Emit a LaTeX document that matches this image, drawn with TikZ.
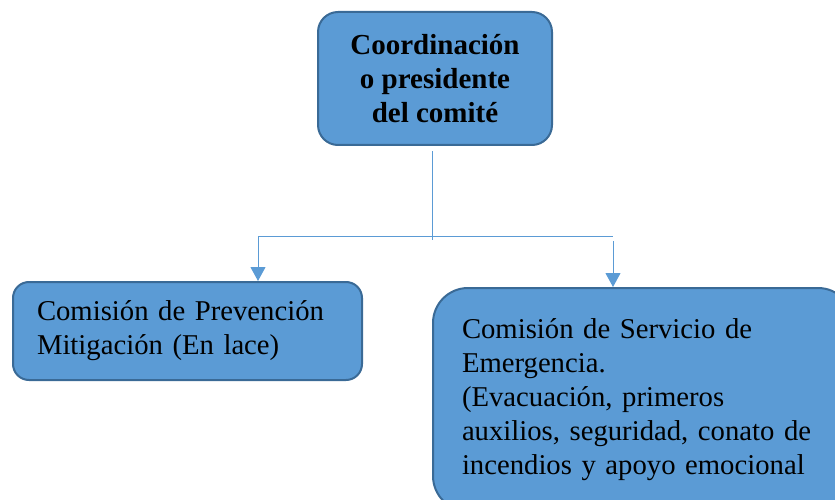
\documentclass[tikz,border=0pt]{standalone}
\usepackage{fontspec}
\setmainfont{Liberation Serif}
\usepackage{tikz}
\usetikzlibrary{arrows.meta}

\definecolor{boxfill}{HTML}{5B9BD5}
\definecolor{boxline}{HTML}{3A6A96}

\begin{document}
\begin{tikzpicture}[x=1pt, y=-1pt,
    box/.style={draw=boxline, line width=2pt, fill=boxfill, rectangle, align=left,
        font=\fontsize{28.7}{34}\selectfont},
    link/.style={draw=boxfill, line width=1pt},
    linkarrow/.style={link, -{Triangle[width=15pt, length=14pt]}}]
    \useasboundingbox (0, 0) rectangle (835, 500);
    \node[box, rounded corners=20pt, align=center, minimum width=234pt, minimum height=133pt,
        font=\fontsize{29}{34}\selectfont\bfseries] (coord) at (435, 78.5)
        {Coordinación\\o presidente\\del comité};
    \node[box, rounded corners=16pt, anchor=north west, text width=301pt, inner xsep=24pt,
        minimum height=98pt] (prev) at (12, 281)
        {Comisión de Prevención\\Mitigación (En lace)};
    \node[box, rounded corners=35pt, anchor=north west, text width=362pt, inner xsep=29pt,
        minimum height=223pt] (emerg) at (432, 287)
        {Comisión de Servicio de\\Emergencia.\\(Evacuación, primeros\\auxilios, seguridad, conato de\\incendios y apoyo emocional};
    \coordinate (split) at (432, 236);
    \coordinate (leftdrop) at (258, 236);
    \coordinate (rightdrop) at (613, 236);
    \draw[link] (coord.south -| split) ++(0, 5) -- ([yshift=-4pt]split);
    \draw[link] (leftdrop) -- (rightdrop);
    \draw[linkarrow] (leftdrop) -- (prev.north -| leftdrop);
    \draw[linkarrow] ([yshift=-5pt]rightdrop) -- (emerg.north -| rightdrop);
\end{tikzpicture}
\end{document}
